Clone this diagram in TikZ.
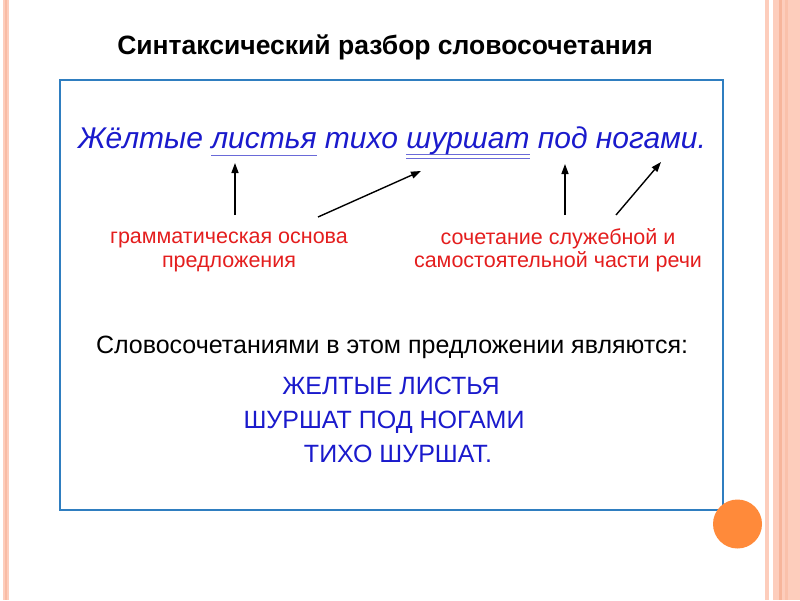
\documentclass[tikz,border=0pt]{standalone}
\usepackage{fontspec}
\setmainfont{Liberation Sans}
\usetikzlibrary{arrows.meta}
\definecolor{boxblue}{HTML}{2F7EC0}
\definecolor{txtblue}{HTML}{1A1ACC}
\definecolor{ulblue}{HTML}{6A6AD8}
\definecolor{txtred}{HTML}{E41E1E}
\definecolor{stripe}{HTML}{FDCDBC}
\definecolor{stripedark}{HTML}{F5AA8C}
\definecolor{dotorange}{HTML}{FF8A3A}
\newcommand\ulone[1]{\setbox0\hbox{#1}\rlap{\raisebox{-8pt}{\color{ulblue}\rule{\wd0}{1.3pt}}}\box0\relax}
\newcommand\ultwo[1]{\setbox0\hbox{#1}\rlap{\raisebox{-7pt}{\color{ulblue}\rule{\wd0}{1.3pt}}}\rlap{\raisebox{-11pt}{\color{ulblue}\rule{\wd0}{1.3pt}}}\box0\relax}
\tikzset{
  title/.style={font=\fontsize{26.5}{30}\selectfont\bfseries, text=black, inner sep=0pt, anchor=base},
  sentence/.style={font=\fontsize{30}{34}\selectfont\itshape, text=txtblue, inner sep=0pt, anchor=base},
  redlbl/.style={font=\fontsize{21.5}{23.5}\selectfont, text=txtred, align=center, inner sep=0pt},
  plain/.style={font=\fontsize{25}{30}\selectfont, text=black, inner sep=0pt, anchor=base},
  caps/.style={font=\fontsize{25}{30}\selectfont, text=txtblue, inner sep=0pt, anchor=base},
  pointer/.style={line width=1.4pt, -{Triangle[length=10pt,width=7pt]}},
}
\begin{document}
\begin{tikzpicture}[x=1pt,y=-1pt]
\useasboundingbox (0,0) rectangle (800,600);
\fill[white] (0,0) rectangle (800,600);
% side stripes
\fill[stripe] (3,0) rectangle (9,600);
\fill[stripedark!50!stripe] (5,0) rectangle (7,600);
\fill[stripe] (765,0) rectangle (769,600);
\fill[stripe] (773,0) rectangle (800,600);
\fill[stripedark!70!stripe] (779,0) rectangle (782,600);
\fill[stripedark!35!stripe] (785,0) rectangle (788,600);
% title
\node[title] (ttl) at (385,54) {Синтаксический разбор словосочетания};
% frame
\draw[boxblue, line width=2.5pt] (60,80) rectangle (723,510);
\fill[dotorange] (737.5,524) circle (24.5);
% sentence
\node[sentence] (snt) at (392,148) {Жёлтые \ulone{листья} тихо \ultwo{шуршат} под ногами.};
% labels
\node[redlbl] (gram) at (229,252) {грамматическая основа\\предложения};
\node[redlbl] (comb) at (558,250) {сочетание служебной и\\самостоятельной части речи};
\coordinate (t1) at (235,163);
\coordinate (f1) at (235,215);
\coordinate (t2) at (421,171);
\coordinate (f2) at (318,217);
\coordinate (t3) at (565,164);
\coordinate (f3) at (565,215);
\coordinate (t4) at (661,162);
\coordinate (f4) at (616,215);
\draw[pointer] (f1) -- (t1);
\draw[pointer] (f2) -- (t2);
\draw[pointer] (f3) -- (t3);
\draw[pointer] (f4) -- (t4);
% bottom text
\node[plain] (intro) at (392,353) {Словосочетаниями в этом предложении являются:};
\node[caps] (p1) at (391,394) {ЖЕЛТЫЕ ЛИСТЬЯ};
\node[caps] (p2) at (384,428) {ШУРШАТ ПОД НОГАМИ};
\node[caps] (p3) at (398,462) {ТИХО ШУРШАТ.};
\end{tikzpicture}
\end{document}
